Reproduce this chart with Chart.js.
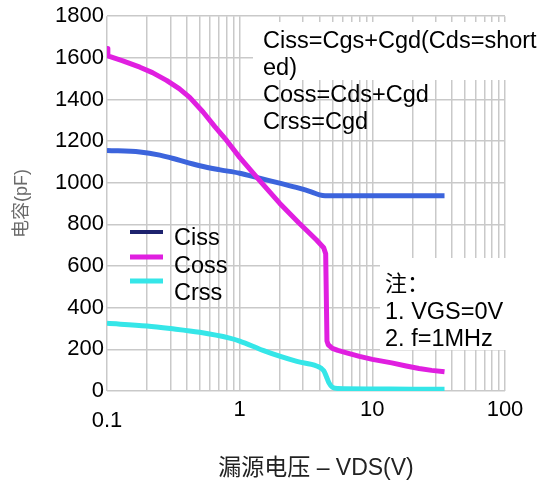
<!DOCTYPE html>
<html>
<head>
<meta charset="utf-8">
<script src="https://cdn.jsdelivr.net/npm/chart.js@4.4.0/dist/chart.umd.min.js"></script>
<style>
  html, body { margin: 0; padding: 0; background: #fff; }
  #wrap { width: 546px; height: 481px; }
</style>
</head>
<body>
<div id="wrap"><canvas id="c" width="546" height="481"></canvas></div>
<script>
// Drain-source voltage (V) and capacitance (pF) for each curve
const cissVds = [0.1, 0.177, 0.25, 0.31, 0.5, 0.7, 1.0, 1.41, 2.0, 2.8, 3.5, 4.0, 4.4, 10, 20, 35];
const cissPf  = [1155, 1148, 1133, 1118, 1082, 1063, 1046, 1022, 998, 974, 955, 942, 938, 938, 938, 938];

const cossVds = [0.1, 0.1015, 0.13, 0.177, 0.22, 0.281, 0.35, 0.42, 0.53, 0.65, 0.8, 1.0, 1.41, 2.0, 2.8, 3.78, 4.3, 4.45, 4.55, 4.65, 5.0, 5.5, 6.5, 8.0, 10, 14, 18, 22.5, 28, 35];
const cossPf  = [1645, 1610, 1587, 1555, 1529, 1492, 1452, 1410, 1340, 1270, 1202, 1122, 1012, 902, 807, 726, 688, 659, 240, 222, 205, 195, 182, 166, 152, 135, 120, 108, 99, 92];

const crssVds = [0.1, 0.2, 0.3, 0.5, 0.84, 1.0, 1.5, 2.0, 2.7, 3.8, 4.3, 4.5, 4.7, 5.0, 5.5, 10, 20, 35];
const crssPf  = [325, 312, 300, 282, 254, 240, 195, 167, 142, 120, 98, 70, 40, 18, 12, 10, 9, 9];

// Axis ticks
const majorTicks  = [0.1, 1, 10, 100];
const majorLabels = ['0.1', '1', '10', '100'];
const yMin = 0, yMax = 1800, yStep = 200;

// Text blocks
const formulaLines = ['Ciss=Cgs+Cgd(Cds=short', 'ed)', 'Coss=Cds+Cgd', 'Crss=Cgd'];
const noteLines = ['注：', '1. VGS=0V', '2. f=1MHz'];
const seriesNames = ['Ciss', 'Coss', 'Crss'];
const xTitle = '漏源电压 – VDS(V)';
const yTitle = '电容(pF)';

const LATIN = '"Liberation Sans", Arial, sans-serif';
const MIXED = '"Liberation Sans", "Noto Sans CJK SC", sans-serif';
const CJK = '"Noto Sans CJK SC", "Liberation Sans", sans-serif';
const GRID = '#c9c9c9';
const colors = { ciss: '#3c64dc', coss: '#e01fe0', crss: '#35e6e8', cissKey: '#1d226e' };

// every log decade gets lines at 1..9
const xGridTicks = [];
for (let d = 0; d < majorTicks.length - 1; d++) {
  for (let m = 1; m <= 9; m++) xGridTicks.push(majorTicks[d] * m);
}
xGridTicks.push(majorTicks[majorTicks.length - 1]);

const pts = (xs, ys) => xs.map((x, i) => ({ x, y: ys[i] }));

const decor = {
  id: 'decor',
  beforeDatasetsDraw(chart) {
    const ctx = chart.ctx;
    ctx.save();
    ctx.fillStyle = '#fff';
    ctx.fillRect(253, 22, 253, 58);   // behind the formula text
    ctx.fillRect(380, 258, 126, 92);  // behind the note
    ctx.restore();
  },
  afterDraw(chart) {
    const ctx = chart.ctx;
    const area = chart.chartArea;
    ctx.save();
    ctx.fillStyle = '#000';
    ctx.textBaseline = 'alphabetic';
    ctx.textAlign = 'left';

    ctx.font = '23.5px ' + LATIN;
    formulaLines.forEach((t, i) => ctx.fillText(t, 263, 48 + i * 27));

    noteLines.forEach((t, i) => {
      ctx.font = (i === 0 ? '22px ' + CJK : '23.5px ' + LATIN);
      ctx.fillText(t, 385, 291 + i * 27.5);
    });

    // legend
    const keyColors = [colors.cissKey, colors.coss, colors.crss];
    const keyY = [232, 257, 281];
    seriesNames.forEach((name, i) => {
      ctx.strokeStyle = keyColors[i];
      ctx.lineWidth = i === 0 ? 4 : 5;
      ctx.beginPath();
      ctx.moveTo(130, keyY[i]);
      ctx.lineTo(163, keyY[i]);
      ctx.stroke();
      ctx.font = '23.5px ' + LATIN;
      ctx.fillText(name, 174, 245 + i * 27.5);
    });

    // x axis title
    ctx.textAlign = 'center';
    ctx.font = '23px ' + MIXED;
    ctx.fillStyle = '#222';
    ctx.fillText(xTitle, (area.left + area.right) / 2 + 10, 475);
    ctx.restore();
  }
};

const lineStyle = {
  showLine: true, pointRadius: 0, borderWidth: 5, fill: false, borderJoinStyle: 'round'
};

new Chart(document.getElementById('c'), {
  type: 'scatter',
  data: {
    datasets: [
      Object.assign({ label: seriesNames[0], data: pts(cissVds, cissPf), borderColor: colors.ciss, order: 1,
        cubicInterpolationMode: 'monotone' }, lineStyle),
      Object.assign({ label: seriesNames[1], data: pts(cossVds, cossPf), borderColor: colors.coss, order: 0,
        tension: 0 }, lineStyle),
      Object.assign({ label: seriesNames[2], data: pts(crssVds, crssPf), borderColor: colors.crss, order: 2,
        cubicInterpolationMode: 'monotone' }, lineStyle)
    ]
  },
  options: {
    responsive: false,
    animation: false,
    devicePixelRatio: 1,
    layout: { padding: { top: 15, right: 41, bottom: 0, left: 0 } },
    plugins: { legend: { display: false }, tooltip: { enabled: false } },
    scales: {
      x: {
        type: 'logarithmic',
        min: majorTicks[0], max: majorTicks[majorTicks.length - 1],
        afterBuildTicks: s => { s.ticks = xGridTicks.map(v => ({ value: v })); },
        afterFit: s => { s.height = 90; },
        grid: { color: GRID, lineWidth: 1.5, drawTicks: false },
        border: { display: false },
        ticks: {
          autoSkip: false, maxRotation: 0, minRotation: 0, padding: 13,
          color: '#000',
          font: { family: LATIN, size: 22, lineHeight: 0.5 },
          callback: (v, i) => {
            const k = majorTicks.findIndex(m => Math.abs(xGridTicks[i] / m - 1) < 1e-9);
            if (k < 0) return '';
            return k === 0 ? ['', majorLabels[k]] : majorLabels[k];
          }
        }
      },
      y: {
        min: yMin, max: yMax,
        afterFit: s => { s.width = 107; },
        grid: { color: GRID, lineWidth: 1.5, drawTicks: false },
        border: { display: false },
        ticks: {
          stepSize: yStep, padding: 3, color: '#000',
          font: { family: LATIN, size: 22 },
          callback: v => String(v)
        },
        title: {
          display: true, text: yTitle, color: '#6a6a6a',
          font: { family: MIXED, size: 18 },
          padding: { top: 11, bottom: 0 }
        }
      }
    }
  },
  plugins: [decor]
});
</script>
</body>
</html>
